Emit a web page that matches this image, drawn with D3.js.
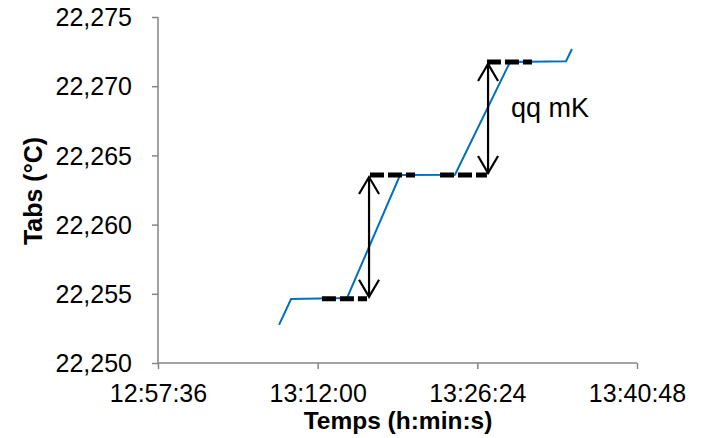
<!DOCTYPE html>
<html><head><meta charset="utf-8">
<script src="https://cdn.jsdelivr.net/npm/d3@7/dist/d3.min.js"></script>
<style>body{margin:0;background:#fff}svg{display:block}text{font-family:"Liberation Sans",Arial,sans-serif}</style>
</head><body><svg id="c" width="702" height="438"></svg>
<script>
// data
const times = ["13:08:31","13:09:36","13:14:39","13:19:26","13:24:23","13:29:21","13:34:24","13:34:56"];
const temps = [22.25275,22.25462,22.25470,22.26358,22.26360,22.27175,22.27180,22.27269];
const xTickLabels = ["12:57:36","13:12:00","13:26:24","13:40:48"];
const yTicks = [22.250,22.255,22.260,22.265,22.270,22.275];
// annotation dashed levels: [start time, end time, temp]
const dashLevels = [["13:12:23","13:16:27",22.25464],["13:16:43","13:20:47",22.26358],["13:23:02","13:27:16",22.26358],["13:27:16","13:31:20",22.27175]];
// arrows: [time, low temp, high temp]
const arrows = [["13:16:38",22.25464,22.26358],["13:27:22",22.26358,22.27175]];
const noteText = "qq mK";
const noteAt = ["13:29:26",22.26777];

const sec = s => { const [h,m,x]=s.split(":").map(Number); return h*3600+m*60+x; };
const svg = d3.select("#c");
const x = d3.scaleLinear().domain([sec("12:57:36"), sec("13:40:48")]).range([158,637]);
const y = d3.scaleLinear().domain([22.250,22.275]).range([363,17]);
const grey = "#868686";

const yAx = svg.append("g").attr("transform","translate(158,0)")
  .call(d3.axisLeft(y).tickValues(yTicks).tickSize(6).tickFormat(d=>d3.format(".3f")(d).replace(".",",")));
const xAx = svg.append("g").attr("transform","translate(0,363)")
  .call(d3.axisBottom(x).tickValues(xTickLabels.map(sec)).tickSize(6).tickFormat((d,i)=>xTickLabels[i]));
[yAx,xAx].forEach(g=>{
  g.selectAll("path,line").attr("stroke",grey).attr("stroke-width",1.5);
  g.selectAll("text").attr("fill","#000").style("font-size","25px");
});
yAx.select(".domain").attr("d","M0,17V363");
xAx.select(".domain").attr("d","M158,0H637");
yAx.selectAll("text").attr("x",-26).attr("dy","0.35em");
xAx.selectAll("text").attr("y",21).attr("dy","0.71em");

// series
const pts = times.map((t,i)=>[sec(t),temps[i]]);
svg.append("path").datum(pts).attr("fill","none").attr("stroke","#0070C0").attr("stroke-width",2)
  .attr("d",d3.line().x(d=>x(d[0])).y(d=>y(d[1])));

// dashed levels
svg.selectAll(".dl").data(dashLevels).join("line")
  .attr("x1",d=>x(sec(d[0]))).attr("x2",d=>x(sec(d[1])))
  .attr("y1",d=>y(d[2])).attr("y2",d=>y(d[2]))
  .attr("stroke","#000").attr("stroke-width",5).attr("stroke-dasharray","14,4");

// arrows
arrows.forEach(a=>{
  const ax=x(sec(a[0])), y1=y(a[2])+2, y2=y(a[1])-2;
  const g=svg.append("g").attr("stroke","#000").attr("stroke-width",2.2).attr("fill","none");
  g.append("line").attr("x1",ax).attr("x2",ax).attr("y1",y1).attr("y2",y2);
  g.append("path").attr("d",`M${ax-10},${y1+17}L${ax},${y1}L${ax+10},${y1+17}`);
  g.append("path").attr("d",`M${ax-10},${y2-17}L${ax},${y2}L${ax+10},${y2-17}`);
});

svg.append("text").attr("x",x(sec(noteAt[0]))).attr("y",y(noteAt[1])).style("font-size","27px").text(noteText);

svg.append("text").attr("transform","translate(42,191) rotate(-90)").attr("text-anchor","middle")
  .style("font-size","25px").style("font-weight","bold").text("Tabs (°C)");
svg.append("text").attr("x",398).attr("y",429).attr("text-anchor","middle")
  .style("font-size","24.5px").style("font-weight","bold").text("Temps (h:min:s)");
</script></body></html>
